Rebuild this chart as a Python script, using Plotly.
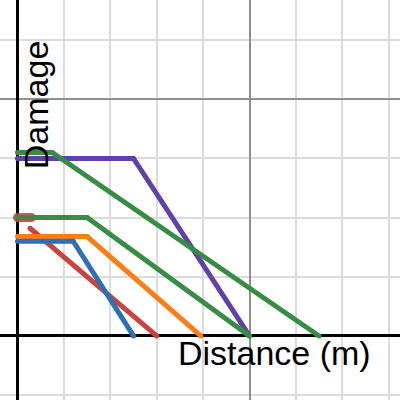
import plotly.graph_objects as go

# Series data (distance in m, damage)
blue_x = [0, 12, 25]
blue_y = [8, 8, 0]
orange_x = [0, 15, 39.5]
orange_y = [8.4, 8.4, 0]
red_x = [2.7, 30]
red_y = [9.1, 0]
red_flat_x = [0, 3]
red_flat_y = [10, 10]
green_low_x = [0, 15, 50]
green_low_y = [10, 10, 0]
purple_x = [0, 25, 50]
purple_y = [15, 15, 0]
green_high_x = [0, 7.5, 65]
green_high_y = [15.5, 15.5, 0]

RED = "#c74440"
BLUE = "#2d70b3"
GREEN = "#388c46"
PURPLE = "#6042a6"
ORANGE = "#fa7e19"

W = 5

def seg(x, y, color, width=W, opacity=1.0):
    return go.Scatter(
        x=x, y=y, mode="lines+markers",
        line=dict(color=color, width=width),
        marker=dict(color=color, size=width, line=dict(width=0)),
        opacity=opacity, hoverinfo="skip", showlegend=False,
    )

fig = go.Figure()
fig.add_trace(seg(red_flat_x, red_flat_y, RED, width=9, opacity=0.9))
fig.add_trace(seg(red_x, red_y, RED))
fig.add_trace(seg(orange_x, orange_y, ORANGE))
fig.add_trace(seg(blue_x, blue_y, BLUE))
fig.add_trace(seg(purple_x, purple_y, PURPLE))
fig.add_trace(seg(green_low_x, green_low_y, GREEN))
fig.add_trace(seg(green_high_x, green_high_y, GREEN))

fig.add_annotation(
    x=55.3, y=0.35, xref="x", yref="y", text="Distance (m)",
    showarrow=False, xanchor="center", yanchor="top",
    font=dict(family="Liberation Sans, Arial", size=34, color="black"),
)
fig.add_annotation(
    x=4.0, y=19.5, xref="x", yref="y", text="Damage",
    showarrow=False, xanchor="center", yanchor="middle", textangle=-90,
    font=dict(family="Liberation Sans, Arial", size=34, color="black"),
)

axis_common = dict(
    showticklabels=False, ticks="", showline=False,
    zeroline=True, zerolinecolor="black", zerolinewidth=3,
    showgrid=True, gridcolor="#8f8f8f", gridwidth=2,
)

fig.update_layout(
    width=400, height=400,
    margin=dict(l=0, r=0, t=0, b=0),
    paper_bgcolor="white", plot_bgcolor="white",
    xaxis=dict(range=[-3.77, 82.43], dtick=50, tick0=0,
               minor=dict(dtick=10, tick0=0, showgrid=True, gridcolor="#dcdcdc", gridwidth=1.6),
               **axis_common),
    yaxis=dict(range=[-5.41, 28.38], dtick=20, tick0=0,
               minor=dict(dtick=5, tick0=0, showgrid=True, gridcolor="#dcdcdc", gridwidth=1.6),
               **axis_common),
    hovermode=False,
)

fig.write_html(
    "out.html",
    config={"displayModeBar": False},
    post_script="document.body.style.margin='0';document.body.style.overflow='hidden';",
)
